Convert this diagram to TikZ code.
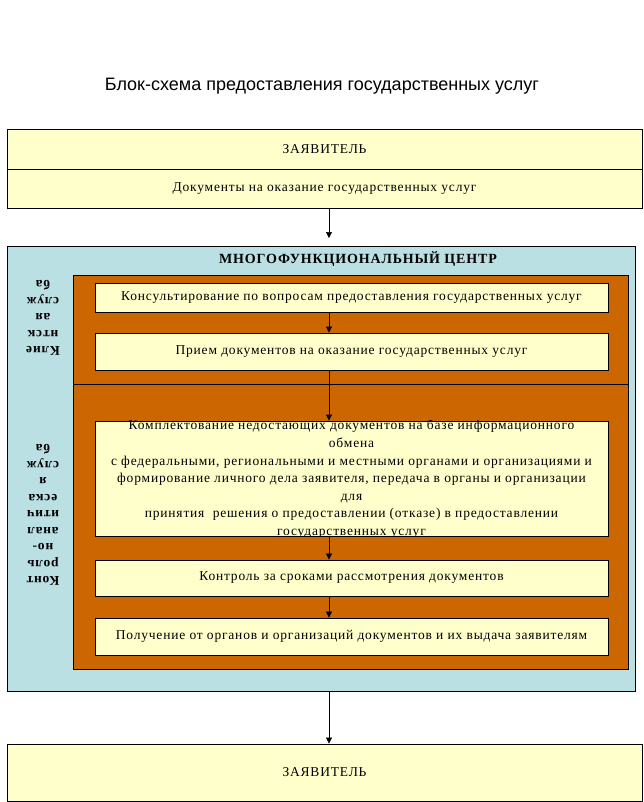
\documentclass[tikz,border=0pt]{standalone}
\usepackage{fontspec}
\setmainfont{Liberation Serif}
\newfontfamily\spaced[LetterSpace=6]{Liberation Serif}
\newfontfamily\titlefont{Liberation Sans}
\usetikzlibrary{arrows.meta}
\definecolor{paleyel}{HTML}{FFFFCC}
\definecolor{mfcblue}{HTML}{BBE0E3}
\definecolor{rust}{HTML}{CC6600}
\tikzset{
  x=1pt, y=-1pt,
  yelbox/.style={draw=black, line width=0.8pt, fill=paleyel, font=\spaced\fontsize{13.5}{16}\selectfont},
  stepbox/.style={draw=black, line width=0.8pt, fill=paleyel, font=\spaced\fontsize{13.5}{16}\selectfont},
  frame/.style={draw=black, line width=0.8pt},
  flow/.style={draw=black, line width=0.6pt, -{Triangle[length=6pt,width=6pt]}},
  side/.style={rotate=180, align=center, font=\spaced\bfseries\fontsize{13.5}{16.5}\selectfont},
}
\begin{document}
\begin{tikzpicture}
\useasboundingbox (0,0) rectangle (644,802);
% title
\node (title) at (322,86) {\titlefont\fontsize{18}{21}\selectfont Блок-схема предоставления государственных услуг};
% top applicant
\node[yelbox, minimum width=635pt, minimum height=40pt, inner sep=0pt] (zv1) at (324.5,149) {ЗАЯВИТЕЛЬ};
\node[yelbox, minimum width=635pt, minimum height=39pt, inner sep=0pt] (docs) at (324.5,188.5) {Документы на оказание государственных услуг};
\draw[line width=1.4pt] (zv1.south west) -- ++(256,0) coordinate (thk);
% MFC
\node[frame, fill=mfcblue, minimum width=628pt, minimum height=445pt, inner sep=0pt] (mfc) at (321,468.5) {};
\node[font=\spaced\bfseries\fontsize{14}{16}\selectfont] (mfct) at (358,259) {МНОГОФУНКЦИОНАЛЬНЫЙ ЦЕНТР};
\node[frame, fill=rust, minimum width=555pt, minimum height=109pt, inner sep=0pt] (org1) at (350.5,329.5) {};
\node[frame, fill=rust, minimum width=555pt, minimum height=285pt, inner sep=0pt] (org2) at (350.5,526.5) {};
\node[side] (cl) at (43,318) {Клие\\нтск\\ая\\служ\\ба};
\node[side] (ka) at (43,515) {Конт\\роль\\но-\\анал\\итич\\еска\\я\\служ\\ба};
% steps
\node[stepbox, minimum width=513pt, minimum height=29pt, inner sep=0pt] (s1) at (351.5,297.5) {Консультирование по вопросам предоставления государственных услуг};
\node[stepbox, minimum width=513pt, minimum height=37pt, inner sep=0pt] (s2) at (351.5,351.5) {Прием документов на оказание государственных услуг};
\node[stepbox, minimum width=513pt, minimum height=115pt, inner sep=0pt] (s3) at (351.5,478.5) {};
\begin{scope}
\clip (s3.north west) rectangle (s3.south east);
\node[align=center, font=\spaced\fontsize{13.5}{17.6}\selectfont, anchor=north, inner sep=0pt] (s3t) at (351.5,420) {Комплектование недостающих документов на базе информационного\\обмена\\с федеральными, региональными и местными органами и организациями и\\формирование личного дела заявителя, передача в органы и организации\\для\\принятия\ \ решения о предоставлении (отказе) в предоставлении\\государственных услуг};
\end{scope}
\node[stepbox, minimum width=513pt, minimum height=36pt, inner sep=0pt] (s4) at (351.5,578) {Контроль за сроками рассмотрения документов};
\node[stepbox, minimum width=513pt, minimum height=37pt, inner sep=0pt] (s5) at (351.5,636.5) {Получение от органов и организаций документов и их выдача заявителям};
% bottom applicant
\node[yelbox, minimum width=635pt, minimum height=57pt, inner sep=0pt] (zv2) at (324.5,772.5) {ЗАЯВИТЕЛЬ};
% arrows
\draw[flow] (docs.south -| 329,0) -- (329,238) coordinate (a1);
\draw[flow] (s1.south -| 329,0) -- (s2.north -| 329,0);
\draw[flow] (s2.south -| 329,0) -- (s3.north -| 329,0);
\draw[flow] (s3.south -| 329,0) -- (s4.north -| 329,0);
\draw[flow] (s4.south -| 329,0) -- (s5.north -| 329,0);
\draw[flow] (mfc.south -| 329,0) -- (zv2.north -| 329,0);
\end{tikzpicture}
\end{document}
